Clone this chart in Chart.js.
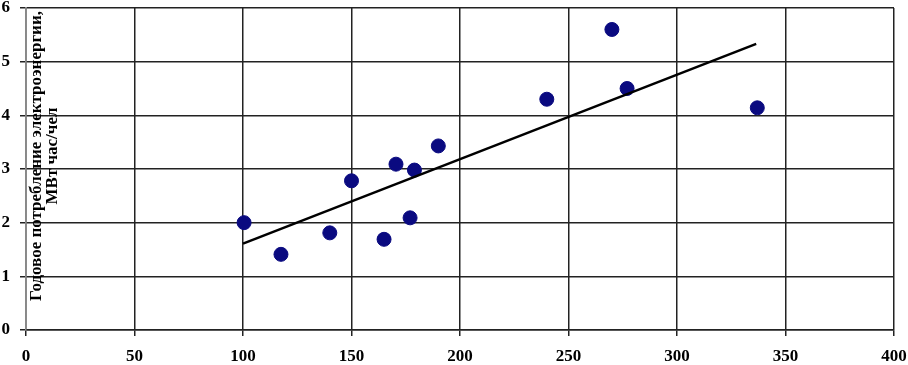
<!DOCTYPE html>
<html>
<head>
<meta charset="utf-8">
<script src="https://cdn.jsdelivr.net/npm/chart.js@4/dist/chart.umd.min.js"></script>
<style>
  html, body { margin: 0; padding: 0; background: #fff; }
</style>
</head>
<body>
<canvas id="myChart" width="908" height="365"></canvas>
<script>
// income per person (x) vs annual electricity use (y)
const xValues = [100.5, 117.5, 140, 150, 165, 170.5, 177, 179, 190, 240, 270, 277, 337];
const yValues = [2.0, 1.41, 1.81, 2.78, 1.69, 3.09, 2.09, 2.98, 3.43, 4.3, 5.6, 4.5, 4.14];
const trendX = [100, 336.5];
const trendY = [1.61, 5.33];
const yTitle = ['Годовое потребление электроэнергии,', 'МВт час/чел'];

const points = xValues.map((x, i) => ({ x: x, y: yValues[i] }));
const trend = trendX.map((x, i) => ({ x: x, y: trendY[i] }));

const titlePlugin = {
    id: 'yTitleInside',
    afterDraw(chart) {
        const c = chart.ctx;
        c.save();
        c.translate(45, 156);
        c.rotate(-Math.PI / 2);
        c.fillStyle = '#000';
        c.font = 'bold 17px "Liberation Serif", "Times New Roman", serif';
        c.textAlign = 'center';
        c.textBaseline = 'middle';
        c.fillText(yTitle[0], 0, -8);
        c.fillText(yTitle[1], 0, 8);
        c.restore();
    }
};

const tickFont = { family: '"Liberation Serif", "Times New Roman", serif', size: 17, weight: 'bold' };

const ctx = document.getElementById('myChart').getContext('2d');
const myChart = new Chart(ctx, {
    type: 'scatter',
    data: {
        datasets: [{
            data: points,
            backgroundColor: '#0a0a80',
            borderColor: '#0a0a80',
            pointRadius: 7,
            pointHoverRadius: 7,
            order: 2
        }, {
            type: 'line',
            data: trend,
            borderColor: '#000',
            borderWidth: 2.5,
            pointRadius: 0,
            showLine: true,
            fill: false,
            order: 1
        }]
    },
    options: {
        responsive: false,
        animation: false,
        devicePixelRatio: 1,
        plugins: { legend: { display: false }, tooltip: { enabled: false } },
        layout: { padding: { top: 6, right: 14, left: 0, bottom: 0 } },
        scales: {
            x: {
                type: 'linear',
                min: 0,
                max: 400,
                ticks: { stepSize: 50, color: '#000', font: tickFont, padding: 10, maxRotation: 0 },
                grid: { color: '#222', lineWidth: 1.5, tickLength: 6 },
                border: { color: '#222', width: 1.5 },
                afterFit(s) { s.height = 35; s.paddingLeft = 0; s.paddingRight = 0; }
            },
            y: {
                min: 0,
                max: 6,
                ticks: { stepSize: 1, color: '#000', font: tickFont, padding: 10 },
                grid: { color: '#222', lineWidth: 1.5, tickLength: 6 },
                border: { color: '#888', width: 1.5 },
                afterFit(s) { s.width = 26; s.paddingTop = 0; s.paddingBottom = 0; }
            }
        }
    },
    plugins: [titlePlugin]
});
</script>
</body>
</html>
